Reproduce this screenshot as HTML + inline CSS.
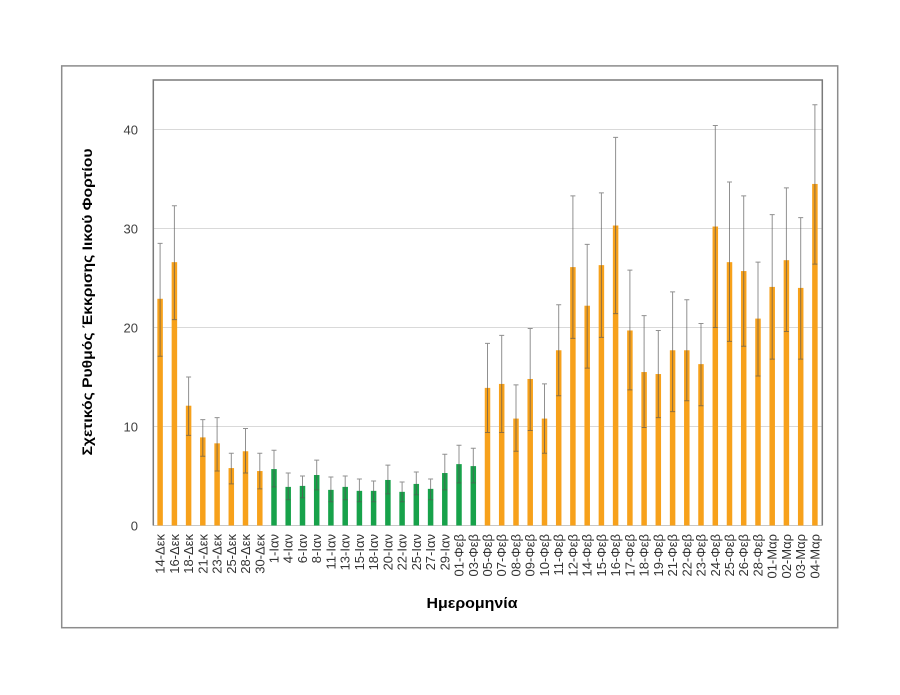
<!DOCTYPE html>
<html><head><meta charset="utf-8"><style>
html,body{margin:0;padding:0;background:#fff;}
svg{display:block;}
text{font-family:"Liberation Sans",sans-serif;}
</style></head><body>
<svg width="900" height="695" viewBox="0 0 900 695" xmlns="http://www.w3.org/2000/svg">
<rect width="900" height="695" fill="#fff"/>
<rect x="61.7" y="65.9" width="776" height="561.8" fill="none" stroke="#8c8c8c" stroke-width="1.5"/>
<!-- gridlines -->
<g stroke="#d9d9d9" stroke-width="1">
<line x1="153.3" x2="822.3" y1="426.5" y2="426.5"/>
<line x1="153.3" x2="822.3" y1="327.5" y2="327.5"/>
<line x1="153.3" x2="822.3" y1="228.5" y2="228.5"/>
<line x1="153.3" x2="822.3" y1="129.5" y2="129.5"/>
</g>
<line x1="153.3" x2="822.3" y1="525.5" y2="525.5" stroke="#c8c8c8" stroke-width="1"/>
<polyline points="153.3,525.5 153.3,80 822.3,80 822.3,525.5" fill="none" stroke="#7a7a7a" stroke-width="1.5"/>
<!-- y tick labels -->
<g font-size="13" fill="#404040" text-anchor="end">
<text x="138" y="530.5">0</text>
<text x="138" y="431.5">10</text>
<text x="138" y="332.5">20</text>
<text x="138" y="233.5">30</text>
<text x="138" y="134.5">40</text>
</g>
<!-- bars -->
<g transform="matrix(1,0,0,-9.9,0,525.5)">
<g fill="#F7A11B">
<rect x="157.35" y="0" width="5.5" height="22.9"/>
<rect x="171.65" y="0" width="5.5" height="26.6"/>
<rect x="185.85" y="0" width="5.5" height="12.1"/>
<rect x="200.05" y="0" width="5.5" height="8.9"/>
<rect x="214.35" y="0" width="5.5" height="8.3"/>
<rect x="228.55" y="0" width="5.5" height="5.8"/>
<rect x="242.75" y="0" width="5.5" height="7.5"/>
<rect x="257.05" y="0" width="5.5" height="5.5"/>
<rect x="484.75" y="0" width="5.5" height="13.9"/>
<rect x="498.95" y="0" width="5.5" height="14.3"/>
<rect x="513.25" y="0" width="5.5" height="10.8"/>
<rect x="527.45" y="0" width="5.5" height="14.8"/>
<rect x="541.75" y="0" width="5.5" height="10.8"/>
<rect x="555.95" y="0" width="5.5" height="17.7"/>
<rect x="570.15" y="0" width="5.5" height="26.1"/>
<rect x="584.45" y="0" width="5.5" height="22.2"/>
<rect x="598.65" y="0" width="5.5" height="26.3"/>
<rect x="612.85" y="0" width="5.5" height="30.3"/>
<rect x="627.15" y="0" width="5.5" height="19.7"/>
<rect x="641.35" y="0" width="5.5" height="15.5"/>
<rect x="655.55" y="0" width="5.5" height="15.3"/>
<rect x="669.85" y="0" width="5.5" height="17.7"/>
<rect x="684.05" y="0" width="5.5" height="17.7"/>
<rect x="698.25" y="0" width="5.5" height="16.3"/>
<rect x="712.55" y="0" width="5.5" height="30.2"/>
<rect x="726.75" y="0" width="5.5" height="26.6"/>
<rect x="740.95" y="0" width="5.5" height="25.7"/>
<rect x="755.25" y="0" width="5.5" height="20.9"/>
<rect x="769.45" y="0" width="5.5" height="24.1"/>
<rect x="783.65" y="0" width="5.5" height="26.8"/>
<rect x="797.95" y="0" width="5.5" height="24.0"/>
<rect x="812.15" y="0" width="5.5" height="34.5"/>
</g>
<g fill="#17A24A">
<rect x="271.25" y="0" width="5.5" height="5.7"/>
<rect x="285.45" y="0" width="5.5" height="3.9"/>
<rect x="299.75" y="0" width="5.5" height="4.0"/>
<rect x="313.95" y="0" width="5.5" height="5.1"/>
<rect x="328.15" y="0" width="5.5" height="3.6"/>
<rect x="342.45" y="0" width="5.5" height="3.9"/>
<rect x="356.65" y="0" width="5.5" height="3.5"/>
<rect x="370.85" y="0" width="5.5" height="3.5"/>
<rect x="385.15" y="0" width="5.5" height="4.6"/>
<rect x="399.35" y="0" width="5.5" height="3.4"/>
<rect x="413.55" y="0" width="5.5" height="4.2"/>
<rect x="427.85" y="0" width="5.5" height="3.7"/>
<rect x="442.05" y="0" width="5.5" height="5.3"/>
<rect x="456.25" y="0" width="5.5" height="6.2"/>
<rect x="470.55" y="0" width="5.5" height="6.0"/>
</g>
<!-- error bars -->
<g stroke="#555" stroke-opacity="0.65" stroke-width="1" vector-effect="non-scaling-stroke" fill="none">
<path vector-effect="non-scaling-stroke" d="
M160.1 17.1V28.5M157.6 28.5H162.6M157.6 17.1H162.6
M174.4 20.8V32.3M171.9 32.3H176.9M171.9 20.8H176.9
M188.6 9.1V15.0M186.1 15.0H191.1M186.1 9.1H191.1
M202.8 7.0V10.7M200.3 10.7H205.3M200.3 7.0H205.3
M217.1 5.5V10.9M214.6 10.9H219.6M214.6 5.5H219.6
M231.3 4.2V7.3M228.8 7.3H233.8M228.8 4.2H233.8
M245.5 5.3V9.8M243.0 9.8H248.0M243.0 5.3H248.0
M259.8 3.7V7.3M257.3 7.3H262.3M257.3 3.7H262.3
M274.0 3.9V7.6M271.5 7.6H276.5M271.5 3.9H276.5
M288.2 2.6V5.3M285.7 5.3H290.7M285.7 2.6H290.7
M302.5 2.8V5.0M300.0 5.0H305.0M300.0 2.8H305.0
M316.7 3.6V6.6M314.2 6.6H319.2M314.2 3.6H319.2
M330.9 2.4V4.9M328.4 4.9H333.4M328.4 2.4H333.4
M345.2 2.6V5.0M342.7 5.0H347.7M342.7 2.6H347.7
M359.4 2.4V4.7M356.9 4.7H361.9M356.9 2.4H361.9
M373.6 2.4V4.5M371.1 4.5H376.1M371.1 2.4H376.1
M387.9 3.2V6.1M385.4 6.1H390.4M385.4 3.2H390.4
M402.1 2.4V4.4M399.6 4.4H404.6M399.6 2.4H404.6
M416.3 3.1V5.4M413.8 5.4H418.8M413.8 3.1H418.8
M430.6 2.6V4.7M428.1 4.7H433.1M428.1 2.6H433.1
M444.8 3.6V7.2M442.3 7.2H447.3M442.3 3.6H447.3
M459.0 4.3V8.1M456.5 8.1H461.5M456.5 4.3H461.5
M473.3 4.3V7.8M470.8 7.8H475.8M470.8 4.3H475.8
M487.5 9.4V18.4M485.0 18.4H490.0M485.0 9.4H490.0
M501.7 9.4V19.2M499.2 19.2H504.2M499.2 9.4H504.2
M516.0 7.5V14.2M513.5 14.2H518.5M513.5 7.5H518.5
M530.2 9.6V19.9M527.7 19.9H532.7M527.7 9.6H532.7
M544.5 7.3V14.3M542.0 14.3H547.0M542.0 7.3H547.0
M558.7 13.1V22.3M556.2 22.3H561.2M556.2 13.1H561.2
M572.9 18.9V33.3M570.4 33.3H575.4M570.4 18.9H575.4
M587.2 15.9V28.4M584.7 28.4H589.7M584.7 15.9H589.7
M601.4 19.0V33.6M598.9 33.6H603.9M598.9 19.0H603.9
M615.6 21.4V39.2M613.1 39.2H618.1M613.1 21.4H618.1
M629.9 13.7V25.8M627.4 25.8H632.4M627.4 13.7H632.4
M644.1 9.9V21.2M641.6 21.2H646.6M641.6 9.9H646.6
M658.3 10.9V19.7M655.8 19.7H660.8M655.8 10.9H660.8
M672.6 11.5V23.6M670.1 23.6H675.1M670.1 11.5H675.1
M686.8 12.6V22.8M684.3 22.8H689.3M684.3 12.6H689.3
M701.0 12.1V20.4M698.5 20.4H703.5M698.5 12.1H703.5
M715.3 20.0V40.4M712.8 40.4H717.8M712.8 20.0H717.8
M729.5 18.6V34.7M727.0 34.7H732.0M727.0 18.6H732.0
M743.7 18.1V33.3M741.2 33.3H746.2M741.2 18.1H746.2
M758.0 15.1V26.6M755.5 26.6H760.5M755.5 15.1H760.5
M772.2 16.8V31.4M769.7 31.4H774.7M769.7 16.8H774.7
M786.4 19.6V34.1M783.9 34.1H788.9M783.9 19.6H788.9
M800.7 16.8V31.1M798.2 31.1H803.2M798.2 16.8H803.2
M814.9 26.4V42.5M812.4 42.5H817.4M812.4 26.4H817.4"/>
</g>
</g>
<!-- x tick labels -->
<g font-size="13" fill="#333" text-anchor="end">
<text transform="translate(164.6,534) rotate(-90)">14-Δεκ</text>
<text transform="translate(178.9,534) rotate(-90)">16-Δεκ</text>
<text transform="translate(193.1,534) rotate(-90)">18-Δεκ</text>
<text transform="translate(207.3,534) rotate(-90)">21-Δεκ</text>
<text transform="translate(221.6,534) rotate(-90)">23-Δεκ</text>
<text transform="translate(235.8,534) rotate(-90)">25-Δεκ</text>
<text transform="translate(250.0,534) rotate(-90)">28-Δεκ</text>
<text transform="translate(264.3,534) rotate(-90)">30-Δεκ</text>
<text transform="translate(278.5,534) rotate(-90)">1-Ιαν</text>
<text transform="translate(292.7,534) rotate(-90)">4-Ιαν</text>
<text transform="translate(307.0,534) rotate(-90)">6-Ιαν</text>
<text transform="translate(321.2,534) rotate(-90)">8-Ιαν</text>
<text transform="translate(335.4,534) rotate(-90)">11-Ιαν</text>
<text transform="translate(349.7,534) rotate(-90)">13-Ιαν</text>
<text transform="translate(363.9,534) rotate(-90)">15-Ιαν</text>
<text transform="translate(378.1,534) rotate(-90)">18-Ιαν</text>
<text transform="translate(392.4,534) rotate(-90)">20-Ιαν</text>
<text transform="translate(406.6,534) rotate(-90)">22-Ιαν</text>
<text transform="translate(420.8,534) rotate(-90)">25-Ιαν</text>
<text transform="translate(435.1,534) rotate(-90)">27-Ιαν</text>
<text transform="translate(449.3,534) rotate(-90)">29-Ιαν</text>
<text transform="translate(463.5,534) rotate(-90)">01-Φεβ</text>
<text transform="translate(477.8,534) rotate(-90)">03-Φεβ</text>
<text transform="translate(492.0,534) rotate(-90)">05-Φεβ</text>
<text transform="translate(506.2,534) rotate(-90)">07-Φεβ</text>
<text transform="translate(520.5,534) rotate(-90)">08-Φεβ</text>
<text transform="translate(534.7,534) rotate(-90)">09-Φεβ</text>
<text transform="translate(549.0,534) rotate(-90)">10-Φεβ</text>
<text transform="translate(563.2,534) rotate(-90)">11-Φεβ</text>
<text transform="translate(577.4,534) rotate(-90)">12-Φεβ</text>
<text transform="translate(591.7,534) rotate(-90)">14-Φεβ</text>
<text transform="translate(605.9,534) rotate(-90)">15-Φεβ</text>
<text transform="translate(620.1,534) rotate(-90)">16-Φεβ</text>
<text transform="translate(634.4,534) rotate(-90)">17-Φεβ</text>
<text transform="translate(648.6,534) rotate(-90)">18-Φεβ</text>
<text transform="translate(662.8,534) rotate(-90)">19-Φεβ</text>
<text transform="translate(677.1,534) rotate(-90)">21-Φεβ</text>
<text transform="translate(691.3,534) rotate(-90)">22-Φεβ</text>
<text transform="translate(705.5,534) rotate(-90)">23-Φεβ</text>
<text transform="translate(719.8,534) rotate(-90)">24-Φεβ</text>
<text transform="translate(734.0,534) rotate(-90)">25-Φεβ</text>
<text transform="translate(748.2,534) rotate(-90)">26-Φεβ</text>
<text transform="translate(762.5,534) rotate(-90)">28-Φεβ</text>
<text transform="translate(776.7,534) rotate(-90)">01-Μαρ</text>
<text transform="translate(790.9,534) rotate(-90)">02-Μαρ</text>
<text transform="translate(805.2,534) rotate(-90)">03-Μαρ</text>
<text transform="translate(819.4,534) rotate(-90)">04-Μαρ</text>
</g>
<!-- axis titles -->
<text transform="translate(92,302) rotate(-90)" font-size="14" font-weight="bold" fill="#000" text-anchor="middle" textLength="307" lengthAdjust="spacingAndGlyphs">Σχετικός Ρυθμός Έκκρισης Ιικού Φορτίου</text>
<text x="472" y="608" font-size="15" font-weight="bold" fill="#000" text-anchor="middle" textLength="91" lengthAdjust="spacingAndGlyphs">Ημερομηνία</text>
</svg>
</body></html>
